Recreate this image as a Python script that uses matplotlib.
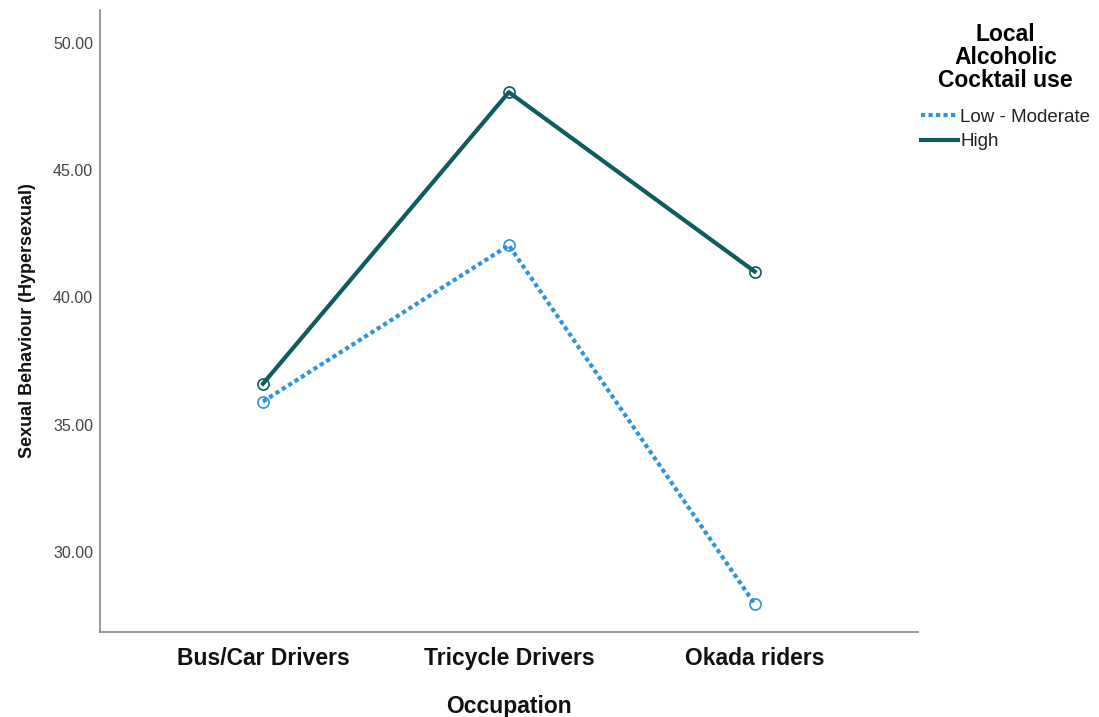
import matplotlib.pyplot as plt
import numpy as np

occupations = ['Bus/Car Drivers', 'Tricycle Drivers', 'Okada riders']
low_moderate = [35.91, 42.05, 27.95]
high = [36.61, 48.07, 41.02]
y_ticks = [30, 35, 40, 45, 50]

plt.rcParams['font.family'] = ['Liberation Sans', 'DejaVu Sans']

fig = plt.figure(figsize=(10.99, 7.17), dpi=100)
ax = fig.add_axes([0.091, 0.1186, 0.744, 0.8674])

x = np.arange(len(occupations))
low_col = '#2f93d9'
high_col = '#0e5c5c'

ax.plot(x, low_moderate, linestyle=(0, (1, 0.8)), color=low_col, linewidth=3,
        marker='o', markersize=8, markerfacecolor='none', markeredgecolor=low_col,
        markeredgewidth=1.2, label='Low - Moderate')
ax.plot(x, high, linestyle='-', color=high_col, linewidth=3,
        marker='o', markersize=8, markerfacecolor='none', markeredgecolor=high_col,
        markeredgewidth=1.2, label='High')

ax.set_xlim(-0.663, 2.663)
ax.set_ylim(26.85, 51.3)
ax.set_xticks(x)
ax.set_xticklabels(occupations, fontsize=16.5, fontweight='bold', color='#111111')
ax.set_yticks(y_ticks)
ax.set_yticklabels(['%.2f' % v for v in y_ticks], fontsize=11.5, color='#444444')
ax.tick_params(axis='both', length=0)
ax.tick_params(axis='x', pad=11)
ax.tick_params(axis='y', pad=5)

for s in ['top', 'right']:
    ax.spines[s].set_visible(False)
for s in ['left', 'bottom']:
    ax.spines[s].set_color('#888888')
    ax.spines[s].set_linewidth(1.2)

ax.set_xlabel('Occupation', fontsize=16.5, fontweight='bold', labelpad=18,
              color='#111111')
ax.set_ylabel('Sexual Behaviour (Hypersexual)', fontsize=13, fontweight='bold',
              labelpad=12, color='#111111')

leg = fig.legend(handles=ax.get_lines(), title='Local\nAlcoholic\nCocktail use',
                 loc='upper center', bbox_to_anchor=(0.915, 0.981), frameon=False,
                 fontsize=13.5, handlelength=2.0, handletextpad=0.1,
                 labelspacing=0.4, borderpad=0,
                 title_fontproperties={'weight': 'bold', 'size': 16.5})
leg.get_title().set_multialignment('center')
leg.get_title().set_linespacing(1.0)
leg._legend_box.sep = 12
for t in leg.get_texts():
    t.set_color('#222222')
for h in leg.legend_handles:
    h.set_marker('')

fig.savefig('out.png', dpi=100)
